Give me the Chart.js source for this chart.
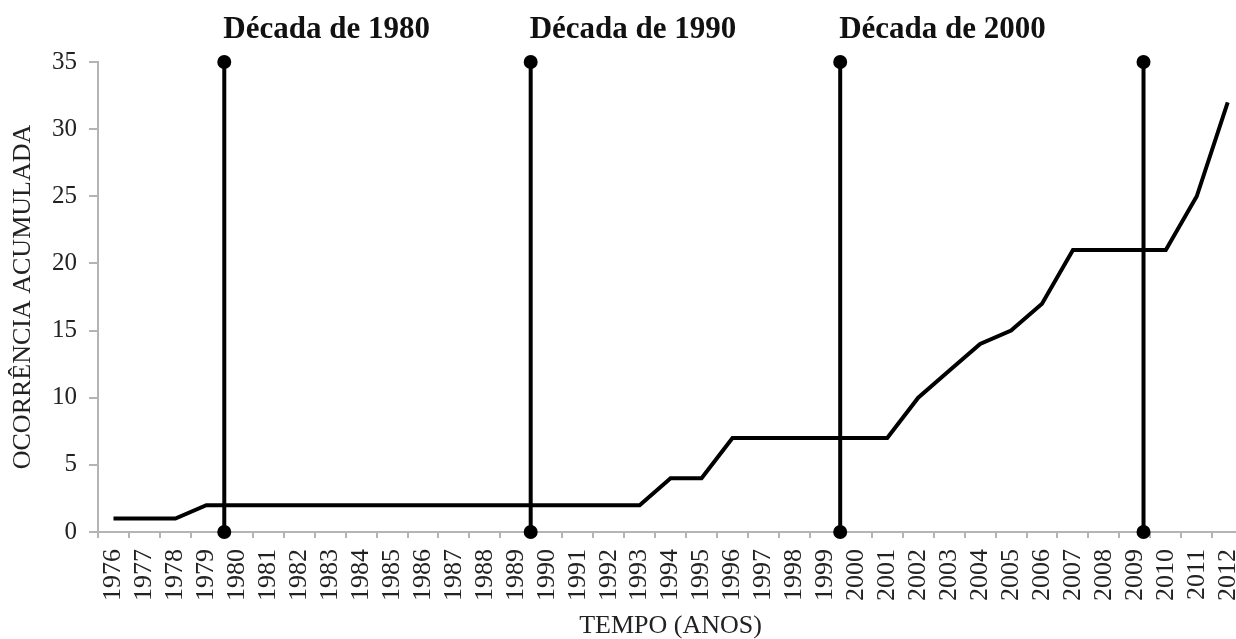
<!DOCTYPE html>
<html>
<head>
<meta charset="utf-8">
<script src="https://cdn.jsdelivr.net/npm/chart.js"></script>
<style>
  html, body { margin: 0; padding: 0; background: #fff; overflow: hidden; }
  #wrap { width: 1270px; height: 639px; position: relative; }
</style>
</head>
<body>
<div id="wrap"><canvas id="chart"></canvas></div>
<script>
// --- Data ---
const years = [
  "1976", "1977", "1978", "1979", "1980", "1981", "1982", "1983", "1984",
  "1985", "1986", "1987", "1988", "1989", "1990", "1991", "1992", "1993",
  "1994", "1995", "1996", "1997", "1998", "1999", "2000", "2001", "2002",
  "2003", "2004", "2005", "2006", "2007", "2008", "2009", "2010", "2011", "2012"
];
const accumulated = [
  1, 1, 1, 2, 2, 2, 2, 2, 2,
  2, 2, 2, 2, 2, 2, 2, 2, 2,
  4, 4, 7, 7, 7, 7, 7, 7, 10,
  12, 14, 15, 17, 21, 21, 21, 21, 25, 32
];
// decade separators (fractional year position on the axis)
const decadeLines = [1979.58, 1989.48, 1999.48, 2009.28];
const decadeLabels = ["Década de 1980", "Década de 1990", "Década de 2000"];
const yTicks = { min: 0, max: 35, step: 5 };

const serif = '"Liberation Serif", "Times New Roman", serif';
const axisGray = "#b4b4b4";

// vertical decade marker datasets (own hidden linear axis in years)
const decadeSets = decadeLines.map((x) => ({
  type: "line",
  xAxisID: "x2",
  data: [{ x: x, y: yTicks.min }, { x: x, y: yTicks.max }],
  borderColor: "#000",
  backgroundColor: "#000",
  borderWidth: 4,
  pointRadius: 7,
  pointHoverRadius: 7,
  pointBorderWidth: 0,
  clip: false,
}));

// labels over the decade lines
const decadeLabelPlugin = {
  id: "decadeLabels",
  afterDraw(chart) {
    const ctx = chart.ctx;
    const sx = chart.scales.x2;
    ctx.save();
    ctx.font = "bold 31px " + serif;
    ctx.fillStyle = "#111";
    ctx.textAlign = "left";
    ctx.textBaseline = "alphabetic";
    decadeLabels.forEach((txt, i) => {
      const x = sx.getPixelForValue(decadeLines[i]);
      ctx.fillText(txt, x - 1, chart.chartArea.top - 24);
    });
    ctx.restore();
  },
};

new Chart(document.getElementById("chart"), {
  type: "line",
  data: {
    labels: years,
    datasets: [
      {
        data: accumulated,
        borderColor: "#000",
        borderWidth: 4,
        pointRadius: 0,
        tension: 0,
        borderJoinStyle: "miter",
        borderCapStyle: "butt",
      },
      ...decadeSets,
    ],
  },
  options: {
    responsive: true,
    maintainAspectRatio: false,
    animation: false,
    layout: { padding: { top: 62, right: 3, left: 10, bottom: 0 } },
    plugins: {
      legend: { display: false },
      tooltip: { enabled: false },
    },
    scales: {
      x: {
        type: "category",
        offset: true,
        grid: {
          offset: true,
          drawOnChartArea: false,
          drawTicks: true,
          tickLength: 6,
          color: axisGray,
          lineWidth: 2,
        },
        border: { display: true, color: axisGray, width: 2 },
        ticks: {
          autoSkip: false,
          maxRotation: 90,
          minRotation: 90,
          padding: 11,
          color: "#222",
          font: { family: serif, size: 26 },
        },
        title: {
          display: true,
          text: "TEMPO (ANOS)",
          color: "#222",
          font: { family: serif, size: 26, lineHeight: 1 },
          padding: { top: 1, bottom: 0 },
        },
      },
      x2: {
        type: "linear",
        display: false,
        min: 1975.5,
        max: 2012.5,
      },
      y: {
        min: yTicks.min,
        max: yTicks.max,
        grid: {
          drawOnChartArea: false,
          drawTicks: true,
          tickLength: 9,
          color: axisGray,
          lineWidth: 2,
        },
        border: { display: true, color: axisGray, width: 2 },
        ticks: {
          stepSize: yTicks.step,
          padding: 12,
          color: "#222",
          font: { family: serif, size: 25 },
        },
        title: {
          display: true,
          text: "OCORRÊNCIA ACUMULADA",
          color: "#222",
          font: { family: serif, size: 26, lineHeight: 1 },
          padding: { top: 0, bottom: 4 },
        },
      },
    },
  },
  plugins: [decadeLabelPlugin],
});
</script>
</body>
</html>
